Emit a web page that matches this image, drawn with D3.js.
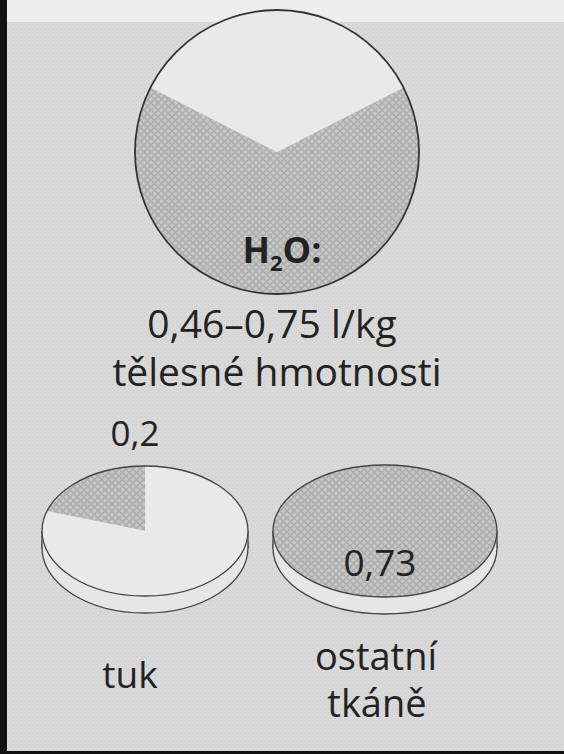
<!DOCTYPE html>
<html>
<head>
<meta charset="utf-8">
<script src="https://cdn.jsdelivr.net/npm/d3@7"></script>
<style>
  body { margin: 0; background: #d6d6d6; }
  text { font-family: "Open Sans", "Noto Sans", sans-serif; fill: #222; }
</style>
</head>
<body>
<div id="chart"></div>
<script>
// water share in the body (dark part) vs the rest (light part)
const bodyLabels = ['H2O', 'ostatní'];
const bodyShares = [0.65, 0.35];

// water content of tissues (l/kg)
const tissueNames = ['tuk', 'ostatní tkáně'];
const tissueWater = [0.2, 0.73];
const tissueValueLabels = ['0,2', '0,73'];
// slice shares as drawn: dark = water, light = rest
const tukShares = [0.2, 0.8];
const ostatniShares = [1, 0];

const rangeLabel = '0,46–0,75 l/kg';
const rangeLabel2 = 'tělesné hmotnosti';

const width = 564;
const height = 754;

const svg = d3.select('#chart')
    .append('svg')
    .attr('width', width)
    .attr('height', height);

const defs = svg.append('defs');

// crosshatch for the water part
const hatch = defs.append('pattern')
    .attr('id', 'hatch')
    .attr('patternUnits', 'userSpaceOnUse')
    .attr('width', 7).attr('height', 7);
hatch.append('rect').attr('width', 7).attr('height', 7).attr('fill', '#c6c6c6');
hatch.append('path').attr('d', 'M0,0 L7,7 M7,0 L0,7').attr('stroke', '#acacac').attr('stroke-width', 1.4);

// scan-like dither for the page
const dots = defs.append('pattern')
    .attr('id', 'dots')
    .attr('patternUnits', 'userSpaceOnUse')
    .attr('width', 4).attr('height', 4);
dots.append('rect').attr('width', 4).attr('height', 4).attr('fill', '#d9d9d9');
dots.append('rect').attr('width', 1).attr('height', 1).attr('fill', '#cacaca');
dots.append('rect').attr('x', 2).attr('y', 2).attr('width', 1).attr('height', 1).attr('fill', '#cecece');

// background
svg.append('rect').attr('width', width).attr('height', height).attr('fill', 'url(#dots)');
svg.append('rect').attr('width', width).attr('height', 22).attr('fill', '#ededed');
svg.append('rect').attr('width', 7).attr('height', height).attr('fill', '#111');
svg.append('rect').attr('y', height - 3).attr('width', width).attr('height', 3).attr('fill', '#111');

const fills = ['url(#hatch)', '#e9e9e9'];

// big pie: light slice on top, centered slightly right of 12 o'clock
const big = { cx: 277, cy: 152, r: 142 };
const lightStart = 63 * Math.PI / 180;
const bigPie = d3.pie().sort(null)
    .startAngle(lightStart)
    .endAngle(lightStart + 2 * Math.PI);
const bigArc = d3.arc().innerRadius(0).outerRadius(big.r);

const gBig = svg.append('g').attr('transform', `translate(${big.cx},${big.cy})`);
gBig.selectAll('path')
    .data(bigPie(bodyShares))
    .enter()
    .append('path')
    .attr('d', bigArc)
    .attr('fill', (d, i) => fills[i]);
gBig.append('circle')
    .attr('r', big.r)
    .attr('fill', 'none')
    .attr('stroke', '#333')
    .attr('stroke-width', 1.8);

const h2o = svg.append('text')
    .attr('x', 282).attr('y', 263)
    .attr('text-anchor', 'middle')
    .attr('font-size', 36)
    .attr('font-weight', 'bold');
h2o.append('tspan').text('H');
h2o.append('tspan').attr('font-size', 22).attr('dy', 8).text('2');
h2o.append('tspan').attr('dy', -8).text('O:');

svg.append('text')
    .attr('x', 272).attr('y', 338)
    .attr('text-anchor', 'middle')
    .attr('font-size', 39)
    .text(rangeLabel);
svg.append('text')
    .attr('x', 277).attr('y', 386)
    .attr('text-anchor', 'middle')
    .attr('font-size', 39)
    .text(rangeLabel2);

// tissue discs (3D pies)
const discs = [
    { cx: 145, cy: 531, rx: 103, ry: 65, shares: tukShares },
    { cx: 385, cy: 531, rx: 112, ry: 66, shares: ostatniShares }
];
const thick = 17;
const smallPie = d3.pie().sort(null)
    .startAngle(-2 * Math.PI * tukShares[0])
    .endAngle(2 * Math.PI - 2 * Math.PI * tukShares[0]);

// pie slice projected onto the ellipse of the disc top
function ellipseSlice(s, d) {
    const pt = a => [d.cx + d.rx * Math.sin(a), d.cy - d.ry * Math.cos(a)];
    const span = s.endAngle - s.startAngle;
    if (span >= 2 * Math.PI - 1e-6) {
        return `M${d.cx - d.rx},${d.cy} A${d.rx},${d.ry} 0 1 1 ${d.cx + d.rx},${d.cy} A${d.rx},${d.ry} 0 1 1 ${d.cx - d.rx},${d.cy} Z`;
    }
    const p0 = pt(s.startAngle), p1 = pt(s.endAngle);
    const large = span > Math.PI ? 1 : 0;
    return `M${d.cx},${d.cy} L${p0[0]},${p0[1]} A${d.rx},${d.ry} 0 ${large} 1 ${p1[0]},${p1[1]} Z`;
}

discs.forEach(d => {
    const g = svg.append('g');
    // side of the disc
    g.append('ellipse')
        .attr('cx', d.cx).attr('cy', d.cy + thick)
        .attr('rx', d.rx).attr('ry', d.ry)
        .attr('fill', '#e6e6e6')
        .attr('stroke', '#444').attr('stroke-width', 1.3);
    g.append('rect')
        .attr('x', d.cx - d.rx).attr('y', d.cy)
        .attr('width', 2 * d.rx).attr('height', thick)
        .attr('fill', '#e6e6e6');
    g.append('path')
        .attr('d', `M${d.cx - d.rx},${d.cy} v${thick} M${d.cx + d.rx},${d.cy} v${thick}`)
        .attr('stroke', '#444').attr('stroke-width', 1.3);
    // top face
    g.selectAll('path.slice')
        .data(smallPie(d.shares).filter(s => s.data > 0))
        .enter()
        .append('path')
        .attr('class', 'slice')
        .attr('d', s => ellipseSlice(s, d))
        .attr('fill', s => fills[s.index]);
    g.append('ellipse')
        .attr('cx', d.cx).attr('cy', d.cy)
        .attr('rx', d.rx).attr('ry', d.ry)
        .attr('fill', 'none')
        .attr('stroke', '#444').attr('stroke-width', 1.3);
});

// value labels
svg.append('text')
    .attr('x', 135).attr('y', 446)
    .attr('text-anchor', 'middle')
    .attr('font-size', 35)
    .text(tissueValueLabels[0]);
svg.append('text')
    .attr('x', 380).attr('y', 576)
    .attr('text-anchor', 'middle')
    .attr('font-size', 37)
    .text(tissueValueLabels[1]);

// tissue names
svg.append('text')
    .attr('x', 130).attr('y', 688)
    .attr('text-anchor', 'middle')
    .attr('font-size', 37)
    .text(tissueNames[0]);
const nameLines = tissueNames[1].split(' ');
svg.append('text')
    .attr('x', 376).attr('y', 670)
    .attr('text-anchor', 'middle')
    .attr('font-size', 38)
    .text(nameLines[0]);
svg.append('text')
    .attr('x', 377).attr('y', 717)
    .attr('text-anchor', 'middle')
    .attr('font-size', 38)
    .text(nameLines[1]);
</script>
</body>
</html>
